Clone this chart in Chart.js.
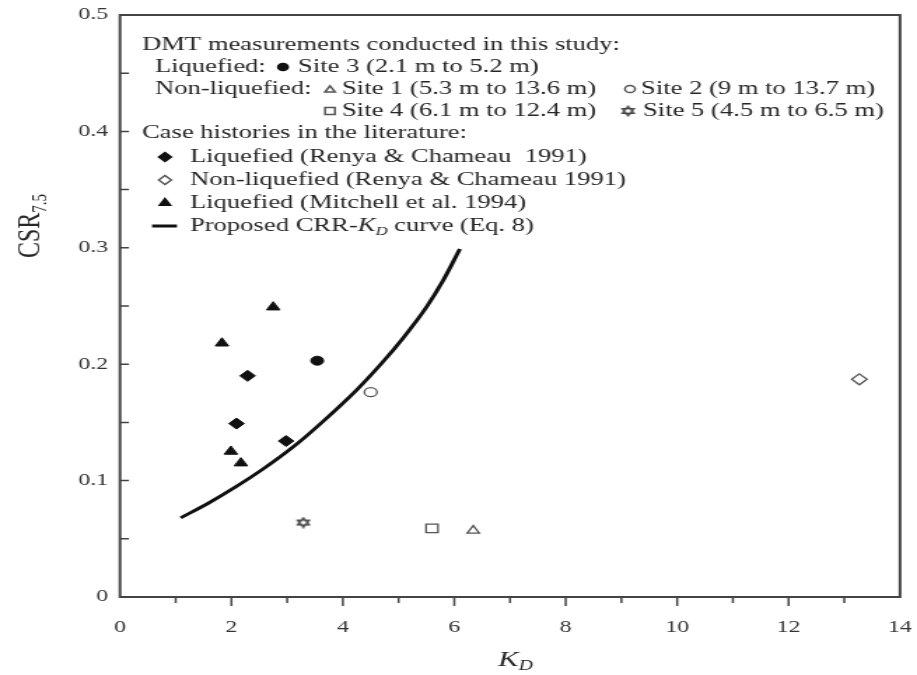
<!DOCTYPE html>
<html>
<head>
<meta charset="utf-8">
<script src="https://cdn.jsdelivr.net/npm/chart.js@4.4.0/dist/chart.umd.min.js"></script>
<style>
html, body { margin: 0; padding: 0; background: #fff; overflow: hidden; }
/* the scanned figure is stretched sideways, so the chart is drawn narrow and widened */
#wrap { width: 655px; height: 675px; transform: scaleX(1.4); transform-origin: 0 0; }
</style>
</head>
<body>
<div id="wrap"><canvas id="chart"></canvas></div>
<script>
// values (K_D on x, CSR7.5 on y)
var site3_KD = [3.54];
var site3_CSR = [0.203];
var site1_KD = [6.34];
var site1_CSR = [0.057];
var site2_KD = [4.50];
var site2_CSR = [0.176];
var site4_KD = [5.60];
var site4_CSR = [0.059];
var site5_KD = [3.29];
var site5_CSR = [0.064];
var renyaLiq_KD = [2.29, 2.09, 2.98];
var renyaLiq_CSR = [0.190, 0.149, 0.134];
var renyaNon_KD = [13.27];
var renyaNon_CSR = [0.187];
var mitchell_KD = [2.75, 1.83, 1.99, 2.17];
var mitchell_CSR = [0.249, 0.218, 0.125, 0.115];
var curve_KD = [1.09, 1.6, 2.09, 2.6, 3.11, 3.6, 4.25, 4.7, 5.09, 5.5, 5.8, 6.10];
var curve_CSR = [0.068, 0.081, 0.095, 0.111, 0.129, 0.149, 0.178, 0.201, 0.223, 0.249, 0.272, 0.299];

var STRETCH = 1.4;
var INK = "#262626";
var AXIS = "#444";
var SERIF = "'Liberation Serif', 'DejaVu Serif', serif";

function sx(x) { return x / STRETCH; } // page x -> canvas x

function pts(xs, ys) {
    return xs.map(function (x, i) { return { x: x, y: ys[i] }; });
}

// six pointed star for site 5
function makeStar() {
    var c = document.createElement("canvas");
    c.width = 12; c.height = 12;
    var g = c.getContext("2d");
    g.strokeStyle = "#444";
    g.lineWidth = 1.3;
    for (var t = 0; t < 2; t++) {
        g.beginPath();
        for (var k = 0; k < 3; k++) {
            var a = -Math.PI / 2 + t * Math.PI + k * 2 * Math.PI / 3;
            var px = 6 + 4.8 * Math.cos(a), py = 6 + 4.8 * Math.sin(a);
            if (k == 0) g.moveTo(px, py); else g.lineTo(px, py);
        }
        g.closePath();
        g.stroke();
    }
    return c;
}
var starImg = makeStar();

function marker(label, data, style, filled, r) {
    return {
        type: "scatter",
        label: label,
        data: data,
        pointStyle: style,
        pointRadius: r,
        pointHoverRadius: r,
        pointBackgroundColor: filled ? "#111" : "#fff",
        pointBorderColor: filled ? "#111" : "#555",
        pointBorderWidth: filled ? 1 : 1.3
    };
}

function drawSub(ctx, x, y, main, sub, size, italic) {
    ctx.font = (italic ? "italic " : "") + size + "px " + SERIF;
    ctx.fillText(main, x, y);
    var w = ctx.measureText(main).width;
    ctx.font = (italic ? "italic " : "") + Math.round(size * 0.62) + "px " + SERIF;
    ctx.fillText(sub, x + w, y + size * 0.3);
    return w + ctx.measureText(sub).width;
}

function legendMark(ctx, style, filled, r, x, y) {
    ctx.save();
    ctx.fillStyle = filled ? "#111" : "#fff";
    ctx.strokeStyle = filled ? "#111" : "#555";
    Chart.helpers.drawPoint(ctx, { pointStyle: style, radius: r, rotation: 0, borderWidth: filled ? 1 : 1.3 }, sx(x), y);
    ctx.restore();
}

var decor = {
    id: "decor",
    afterDraw: function (chart) {
        var ctx = chart.ctx, ca = chart.chartArea;
        var xs = chart.scales.x, ys = chart.scales.y;
        ctx.save();
        // frame, outward ticks on K_D, inward ticks on CSR
        ctx.strokeStyle = AXIS;
        ctx.lineWidth = 2;
        ctx.strokeRect(ca.left, ca.top, ca.right - ca.left, ca.bottom - ca.top);
        ctx.lineWidth = 1.5;
        ctx.beginPath();
        for (var v = 1; v < 14; v++) {
            var px = xs.getPixelForValue(v);
            ctx.moveTo(px, ca.bottom); ctx.lineTo(px, ca.bottom + (v % 2 ? 6 : 9));
        }
        for (var k = 1; k < 10; k++) {
            var py = ys.getPixelForValue(k * 0.05);
            ctx.moveTo(ca.left, py); ctx.lineTo(ca.left + sx(9), py);
        }
        ctx.stroke();

        // axis titles
        ctx.fillStyle = INK;
        ctx.textBaseline = "middle";
        ctx.textAlign = "left";
        ctx.save();
        ctx.translate(sx(30), 226);
        ctx.rotate(-Math.PI / 2);
        ctx.font = "24px " + SERIF;
        var wcsr = ctx.measureText("CSR").width;
        ctx.font = "15px " + SERIF;
        wcsr += ctx.measureText("7.5").width;
        drawSub(ctx, -wcsr / 2, 0, "CSR", "7.5", 24, false);
        ctx.restore();
        drawSub(ctx, sx(498), 660, "K", "D", 22, true);

        // legend block
        var fs = 19;
        ctx.font = fs + "px " + SERIF;
        ctx.fillText("DMT measurements conducted in this study:", sx(142), 45);
        ctx.fillText("Liquefied:", sx(155), 67);
        legendMark(ctx, "circle", true, 3.6, 283, 67);
        ctx.fillText("Site 3 (2.1 m to 5.2 m)", sx(298), 67);
        ctx.fillText("Non-liquefied:", sx(155), 89);
        legendMark(ctx, "triangle", false, 4.2, 330, 90);
        ctx.fillText("Site 1 (5.3 m to 13.6 m)", sx(342), 89);
        legendMark(ctx, "circle", false, 3.6, 630, 89);
        ctx.fillText("Site 2 (9 m to 13.7 m)", sx(641), 89);
        legendMark(ctx, "rect", false, 5, 330, 111);
        ctx.fillText("Site 4 (6.1 m to 12.4 m)", sx(342), 111);
        ctx.drawImage(starImg, sx(628) - 6, 105);
        ctx.fillText("Site 5 (4.5 m to 6.5 m)", sx(643), 111);
        ctx.fillText("Case histories in the literature:", sx(142), 133);
        legendMark(ctx, "rectRot", true, 4.5, 165, 157);
        ctx.fillText("Liquefied (Renya & Chameau  1991)", sx(190), 157);
        legendMark(ctx, "rectRot", false, 4.5, 165, 180);
        ctx.fillText("Non-liquefied (Renya & Chameau 1991)", sx(190), 180);
        legendMark(ctx, "triangle", true, 4.5, 165, 203);
        ctx.fillText("Liquefied (Mitchell et al. 1994)", sx(190), 203);
        ctx.strokeStyle = "#111";
        ctx.lineWidth = 3;
        ctx.beginPath(); ctx.moveTo(sx(152), 226); ctx.lineTo(sx(177), 226); ctx.stroke();
        ctx.fillText("Proposed CRR-", sx(190), 226);
        var w0 = ctx.measureText("Proposed CRR-").width;
        var w1 = drawSub(ctx, sx(190) + w0, 226, "K", "D", fs, true);
        ctx.font = fs + "px " + SERIF;
        ctx.fillText(" curve (Eq. 8)", sx(190) + w0 + w1, 226);
        ctx.restore();
    }
};

new Chart(document.getElementById("chart"), {
    type: "scatter",
    data: {
        datasets: [
            {
                type: "line",
                label: "Proposed CRR-KD curve (Eq. 8)",
                data: pts(curve_KD, curve_CSR),
                borderColor: "#111",
                borderWidth: 3,
                pointRadius: 0,
                fill: false,
                cubicInterpolationMode: "monotone"
            },
            marker("Site 3", pts(site3_KD, site3_CSR), "circle", true, 4.5),
            marker("Site 1", pts(site1_KD, site1_CSR), "triangle", false, 5),
            marker("Site 2", pts(site2_KD, site2_CSR), "circle", false, 4.5),
            marker("Site 4", pts(site4_KD, site4_CSR), "rect", false, 6),
            marker("Site 5", pts(site5_KD, site5_CSR), starImg, false, 6),
            marker("Liquefied (Renya & Chameau 1991)", pts(renyaLiq_KD, renyaLiq_CSR), "rectRot", true, 5.5),
            marker("Non-liquefied (Renya & Chameau 1991)", pts(renyaNon_KD, renyaNon_CSR), "rectRot", false, 5.5),
            marker("Liquefied (Mitchell et al. 1994)", pts(mitchell_KD, mitchell_CSR), "triangle", true, 5.5)
        ]
    },
    options: {
        responsive: true,
        maintainAspectRatio: false,
        animation: false,
        devicePixelRatio: 1,
        layout: { padding: { top: 15, right: 655 - 900 / STRETCH, left: 0, bottom: 0 } },
        plugins: {
            legend: { display: false },
            tooltip: { enabled: false }
        },
        scales: {
            x: {
                type: "linear",
                min: 0,
                max: 14,
                ticks: { stepSize: 2, padding: 20, color: "#333", font: { family: SERIF, size: 17 } },
                grid: { display: false, drawTicks: false },
                border: { display: false },
                afterFit: function (s) { s.height = 78; s.paddingLeft = 0; s.paddingRight = 0; }
            },
            y: {
                min: 0,
                max: 0.5,
                ticks: { stepSize: 0.1, padding: sx(120) - sx(108), color: "#333", font: { family: SERIF, size: 17 } },
                grid: { display: false, drawTicks: false },
                border: { display: false },
                afterFit: function (s) { s.width = sx(120); s.paddingTop = 0; s.paddingBottom = 0; }
            }
        }
    },
    plugins: [decor]
});
</script>
</body>
</html>
